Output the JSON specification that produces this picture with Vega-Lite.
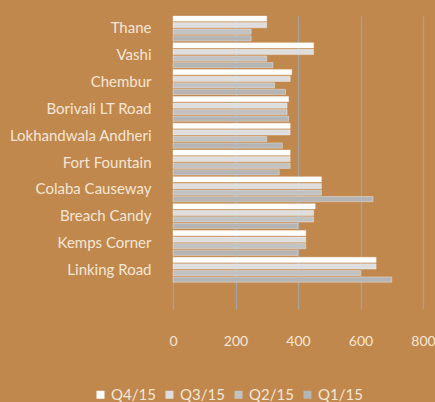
{
  "$schema": "https://vega.github.io/schema/vega-lite/v6.json",
  "width": 250,
  "height": 293,
  "autosize": {"type": "none"},
  "padding": {"left": 173, "top": 16, "right": 12, "bottom": 93},
  "background": "#C1884D",
  "config": {
    "view": {"stroke": null},
    "font": "Lato",
    "axis": {"labelColor": "#F4E6D6", "labelFont": "Lato", "title": null},
    "legend": {"labelColor": "#F4E6D6", "labelFont": "Lato"}
  },
  "data": {
    "values": [
      {"store": "Thane", "q": "Q4/15", "v": 300},
      {"store": "Thane", "q": "Q3/15", "v": 300},
      {"store": "Thane", "q": "Q2/15", "v": 250},
      {"store": "Thane", "q": "Q1/15", "v": 250},
      {"store": "Vashi", "q": "Q4/15", "v": 450},
      {"store": "Vashi", "q": "Q3/15", "v": 450},
      {"store": "Vashi", "q": "Q2/15", "v": 300},
      {"store": "Vashi", "q": "Q1/15", "v": 320},
      {"store": "Chembur", "q": "Q4/15", "v": 380},
      {"store": "Chembur", "q": "Q3/15", "v": 375},
      {"store": "Chembur", "q": "Q2/15", "v": 325},
      {"store": "Chembur", "q": "Q1/15", "v": 360},
      {"store": "Borivali LT Road", "q": "Q4/15", "v": 370},
      {"store": "Borivali LT Road", "q": "Q3/15", "v": 365},
      {"store": "Borivali LT Road", "q": "Q2/15", "v": 365},
      {"store": "Borivali LT Road", "q": "Q1/15", "v": 370},
      {"store": "Lokhandwala Andheri", "q": "Q4/15", "v": 375},
      {"store": "Lokhandwala Andheri", "q": "Q3/15", "v": 375},
      {"store": "Lokhandwala Andheri", "q": "Q2/15", "v": 300},
      {"store": "Lokhandwala Andheri", "q": "Q1/15", "v": 350},
      {"store": "Fort Fountain", "q": "Q4/15", "v": 375},
      {"store": "Fort Fountain", "q": "Q3/15", "v": 375},
      {"store": "Fort Fountain", "q": "Q2/15", "v": 375},
      {"store": "Fort Fountain", "q": "Q1/15", "v": 340},
      {"store": "Colaba Causeway", "q": "Q4/15", "v": 475},
      {"store": "Colaba Causeway", "q": "Q3/15", "v": 475},
      {"store": "Colaba Causeway", "q": "Q2/15", "v": 475},
      {"store": "Colaba Causeway", "q": "Q1/15", "v": 640},
      {"store": "Breach Candy", "q": "Q4/15", "v": 455},
      {"store": "Breach Candy", "q": "Q3/15", "v": 450},
      {"store": "Breach Candy", "q": "Q2/15", "v": 450},
      {"store": "Breach Candy", "q": "Q1/15", "v": 400},
      {"store": "Kemps Corner", "q": "Q4/15", "v": 425},
      {"store": "Kemps Corner", "q": "Q3/15", "v": 425},
      {"store": "Kemps Corner", "q": "Q2/15", "v": 425},
      {"store": "Kemps Corner", "q": "Q1/15", "v": 400},
      {"store": "Linking Road", "q": "Q4/15", "v": 650},
      {"store": "Linking Road", "q": "Q3/15", "v": 650},
      {"store": "Linking Road", "q": "Q2/15", "v": 600},
      {"store": "Linking Road", "q": "Q1/15", "v": 700}
    ]
  },
  "mark": {"type": "bar", "stroke": "#FFFFFF", "strokeOpacity": 0.35, "strokeWidth": 1},
  "encoding": {
    "y": {
      "field": "store",
      "type": "nominal",
      "scale": {
        "domain": ["Thane", "Vashi", "Chembur", "Borivali LT Road", "Lokhandwala Andheri", "Fort Fountain", "Colaba Causeway", "Breach Candy", "Kemps Corner", "Linking Road", " "],
        "paddingInner": 0.07,
        "paddingOuter": 0
      },
      "axis": {"domain": false, "ticks": false, "labelFontSize": 15, "labelPadding": 22, "grid": false}
    },
    "yOffset": {
      "field": "q",
      "type": "nominal",
      "sort": ["Q4/15", "Q3/15", "Q2/15", "Q1/15"],
      "scale": {"paddingInner": 0.2, "paddingOuter": 0}
    },
    "x": {
      "field": "v",
      "type": "quantitative",
      "scale": {"domain": [0, 800], "nice": false},
      "axis": {"values": [0, 200, 400, 600, 800], "grid": true, "gridColor": "#A3A3A3", "gridWidth": 1.3, "domain": false, "ticks": false, "labelFontSize": 14, "labelPadding": 25, "labelFlush": false, "labelOverlap": false}
    },
    "color": {
      "field": "q",
      "type": "nominal",
      "scale": {"domain": ["Q4/15", "Q3/15", "Q2/15", "Q1/15"], "range": ["#FFFFFF", "#DEDEDE", "#C2C2C2", "#B5B5B5"]},
      "legend": {
        "title": null,
        "orient": "none",
        "direction": "horizontal",
        "columns": 4,
        "legendX": -80,
        "legendY": 371,
        "symbolType": "square",
        "symbolSize": 64,
        "symbolStrokeWidth": 0,
        "labelFontSize": 15,
        "labelOffset": 3,
        "columnPadding": 6
      }
    }
  }
}
